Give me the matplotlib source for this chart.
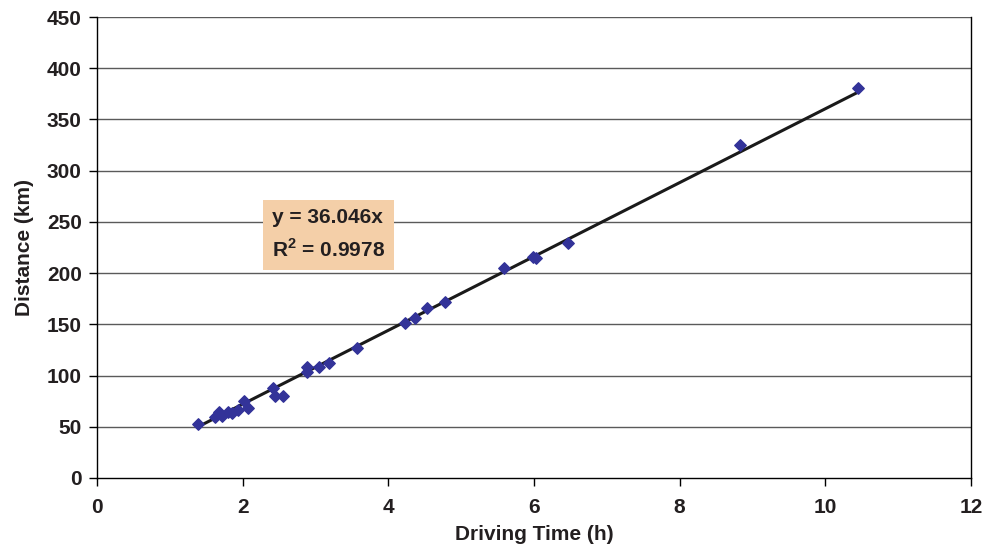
import matplotlib
matplotlib.use("Agg")
import matplotlib.pyplot as plt
import numpy as np

plt.rcParams['font.family'] = ['Liberation Sans', 'DejaVu Sans']
plt.rcParams['mathtext.fontset'] = 'custom'
plt.rcParams['mathtext.rm'] = 'Liberation Sans'
plt.rcParams['mathtext.bf'] = 'Liberation Sans:bold'

driving_time = [1.39, 1.62, 1.67, 1.72, 1.80, 1.86, 1.94, 2.02, 2.07,
                2.42, 2.44, 2.56, 2.88, 2.88, 3.05, 3.19, 3.57,
                4.23, 4.37, 4.53, 4.78, 5.59, 5.99, 6.03, 6.47, 8.83, 10.45]
distance = [53, 60, 64, 61, 64, 63, 66, 75, 68,
            88, 80, 80, 108, 103, 108, 112, 127,
            151, 156, 166, 172, 205, 216, 215, 229, 325, 381]
slope = 36.046
r2 = 0.9978

x_ticks = [0, 2, 4, 6, 8, 10, 12]
y_ticks = [0, 50, 100, 150, 200, 250, 300, 350, 400, 450]

fig = plt.figure(figsize=(9.85, 5.51), dpi=100)
ax = fig.add_axes([0.0985, 0.1325, 0.8873, 0.8366])

ax.set_xlim(0, 12)
ax.set_ylim(0, 450)
ax.set_xticks(x_ticks)
ax.set_yticks(y_ticks)
for y in y_ticks[1:]:
    ax.axhline(y, color='#5a5a5a', lw=1.0, zorder=1)

xs = np.array([min(driving_time), max(driving_time)])
ax.plot(xs, slope * xs, color='#1a1a1a', lw=2.2, zorder=3)
ax.scatter(driving_time, distance, marker='D', s=34, color='#333399',
           edgecolors='#333399', zorder=4)

for s in ['left', 'bottom', 'right']:
    ax.spines[s].set_color('black')
    ax.spines[s].set_linewidth(1.0)
ax.spines['top'].set_visible(False)

ax.tick_params(axis='both', direction='out', length=5.5, width=1, color='black',
               labelsize=15)
ax.tick_params(axis='x', pad=9)
ax.tick_params(axis='y', pad=5.5)
for lab in ax.get_xticklabels() + ax.get_yticklabels():
    lab.set_fontweight('bold')
    lab.set_color('#231f20')

ax.set_xlabel('Driving Time (h)', fontsize=15, fontweight='bold', color='#231f20', labelpad=6)
ax.set_ylabel('Distance (km)', fontsize=15, fontweight='bold', color='#231f20', labelpad=9)

ax.text(2.40, 237.5, 'y = 36.046x\nR$^{\\mathbf{2}}$ = 0.9978', fontsize=15,
        fontweight='bold', color='#231f20', va='center', ha='left', linespacing=1.6,
        bbox=dict(boxstyle='square,pad=0.42', facecolor='#f4cfa8', edgecolor='none'),
        zorder=5)

fig.savefig('out.png', dpi=100)
